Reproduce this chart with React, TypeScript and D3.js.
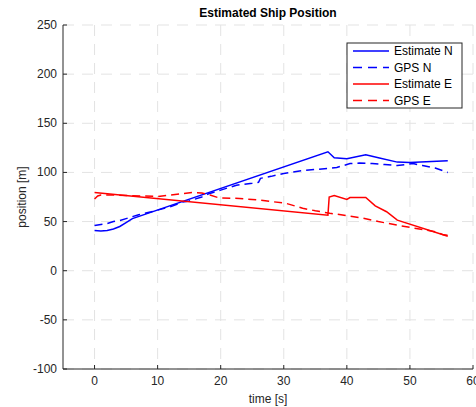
import React from 'react';
import * as d3 from 'd3';

// time [s] and position [m] for each series
const estNTime = [0, 1, 2, 3, 4, 5, 6, 37, 37.5, 38, 40, 43, 45, 48, 50, 56];
const estNVal = [41, 40.5, 41, 42.5, 45, 49, 53, 121, 118, 115, 114, 118, 115, 110.5, 110, 112];

const gpsNTime = [0, 1, 2, 3, 4, 5, 6, 7, 9, 12, 14, 15, 17, 18, 20, 22.5, 25, 26, 26.3, 28, 30, 32.5, 35, 37, 38.4, 40.5, 42, 44, 46, 48, 50.5, 52, 54, 56];
const gpsNVal = [46, 47, 48, 50, 51, 53, 55, 57, 60, 65, 70, 71, 75, 78, 82, 87, 89, 90, 94, 96, 99, 101.5, 103, 104, 105, 109, 109.5, 109, 108, 107, 109, 107, 104.5, 100];

const estETime = [0, 37, 37.2, 38, 40, 40.5, 43, 44.5, 46.3, 48, 56];
const estEVal = [79.5, 56.5, 75, 76.5, 72.5, 74.5, 74.5, 66, 60, 51.5, 35];

const gpsETime = [0, 0.5, 1, 3, 5, 8, 10, 12, 15.5, 17, 18.3, 19.8, 23, 26, 30.4, 33, 35, 37.3, 40, 42.6, 45, 47.9, 51, 54.2, 55.3, 56];
const gpsEVal = [73, 76, 77, 77, 76.5, 76, 75.5, 77, 79.5, 79, 77, 74, 73.5, 72, 68.5, 63.5, 61, 58.5, 56, 53.5, 50, 46.5, 43, 39.5, 36.5, 36];

const xTicks = [0, 10, 20, 30, 40, 50, 60];
const yTicks = [-100, -50, 0, 50, 100, 150, 200, 250];

const series = [
  { name: 'Estimate N', t: estNTime, v: estNVal, color: '#0000ff', dash: '' },
  { name: 'GPS N', t: gpsNTime, v: gpsNVal, color: '#0000ff', dash: '8,5' },
  { name: 'Estimate E', t: estETime, v: estEVal, color: '#ff0000', dash: '' },
  { name: 'GPS E', t: gpsETime, v: gpsEVal, color: '#ff0000', dash: '8,5' },
];

const W = 476;
const H = 407;
const left = 63;
const right = 473;
const top = 25;
const bottom = 369;
const font = '"Liberation Sans", Arial, Helvetica, sans-serif';
const axisColor = '#262626';
const gridColor = '#e3e3e3';

export default function App() {
  const x = d3.scaleLinear().domain([-5, 60]).range([left, right]);
  const y = d3.scaleLinear().domain([-100, 250]).range([bottom, top]);

  const line = d3.line<[number, number]>()
    .x((d) => x(d[0]))
    .y((d) => y(d[1]));

  const legendX = 347;
  const legendY = 43;

  return (
    <svg width={W} height={H} style={{ position: 'absolute', left: 0, top: 0 }} fontFamily={font}>
      <rect width={W} height={H} fill="#fff" />

      {/* grid */}
      {xTicks.map((t) => (
        <line key={'gx' + t} x1={x(t)} x2={x(t)} y1={top} y2={bottom} stroke={gridColor} strokeWidth={1} strokeDasharray="11,8" />
      ))}
      {yTicks.map((t) => (
        <line key={'gy' + t} x1={left} x2={right} y1={y(t)} y2={y(t)} stroke={gridColor} strokeWidth={1} strokeDasharray="11,8" />
      ))}

      {/* data */}
      {series.map((s) => (
        <path
          key={s.name}
          d={line(s.t.map((t, i) => [t, s.v[i]] as [number, number])) || ''}
          fill="none"
          stroke={s.color}
          strokeWidth={1.5}
          strokeDasharray={s.dash}
        />
      ))}

      {/* axes */}
      <line x1={left} x2={right} y1={bottom} y2={bottom} stroke={axisColor} strokeWidth={1} />
      <line x1={left} x2={left} y1={top} y2={bottom} stroke={axisColor} strokeWidth={1} />
      {xTicks.map((t) => (
        <g key={'xt' + t}>
          <line x1={x(t)} x2={x(t)} y1={bottom} y2={bottom - 4} stroke={axisColor} />
          <text x={x(t)} y={bottom + 16} textAnchor="middle" fontSize={12} fill={axisColor}>{t}</text>
        </g>
      ))}
      {yTicks.map((t) => (
        <g key={'yt' + t}>
          <line x1={left} x2={left + 4} y1={y(t)} y2={y(t)} stroke={axisColor} />
          <text x={left - 6} y={y(t) + 4} textAnchor="end" fontSize={12} fill={axisColor}>{t}</text>
        </g>
      ))}

      {/* labels */}
      <text x={(left + right) / 2} y={17} textAnchor="middle" fontSize={12} fontWeight="bold" fill="#000">Estimated Ship Position</text>
      <text x={(left + right) / 2} y={403} textAnchor="middle" fontSize={12} fill={axisColor}>time [s]</text>
      <text transform={`translate(26,${(top + bottom) / 2}) rotate(-90)`} textAnchor="middle" fontSize={12} fill={axisColor}>position [m]</text>

      {/* legend */}
      <rect x={legendX} y={legendY} width={115} height={65} fill="#fff" stroke={axisColor} strokeWidth={1} />
      {series.map((s, i) => (
        <g key={'lg' + s.name}>
          <line x1={353} x2={389} y1={legendY + 8 + i * 16.5} y2={legendY + 8 + i * 16.5} stroke={s.color} strokeWidth={1.5} strokeDasharray={s.dash ? '9,6' : ''} />
          <text x={394} y={legendY + 12 + i * 16.5} fontSize={12} fill="#000">{s.name}</text>
        </g>
      ))}
    </svg>
  );
}
